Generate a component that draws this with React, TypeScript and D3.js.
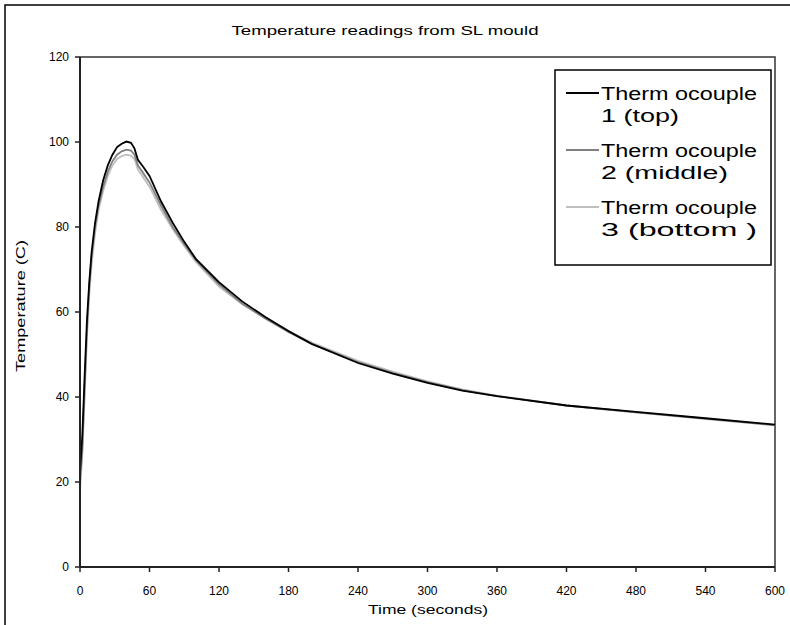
import React from 'react';
import * as d3 from 'd3';

// Thermocouple readings, SL mould – Excel-style line chart

const WIDTH = 790;
const HEIGHT = 625;
const PLOT = { left: 80, right: 775, top: 57, bottom: 567 };
const FONT = '"Liberation Sans", Arial, sans-serif';

const TITLE = 'Temperature readings from SL mould';
const X_TITLE = 'Time (seconds)';
const Y_TITLE = 'Temperature (C)';

const X_TICKS = [0, 60, 120, 180, 240, 300, 360, 420, 480, 540, 600];
const Y_TICKS = [0, 20, 40, 60, 80, 100, 120];

const TIMES = [
  0, 2, 4, 6, 8, 10, 13, 16, 20, 24, 28, 32, 36, 40, 44, 47, 50, 55, 60, 70, 80, 90, 100, 120,
  140, 160, 180, 200, 240, 270, 300, 330, 360, 420, 480, 540, 600,
];
const TC1_TOP = [
  22, 31, 45, 58, 67, 74, 81, 86, 91, 94.5, 97, 98.8, 99.6, 100.1, 99.8, 98.5, 95.8, 94, 92, 86,
  81, 76.5, 72.5, 67, 62.5, 58.8, 55.5, 52.5, 48, 45.5, 43.3, 41.5, 40.2, 38, 36.5, 35, 33.5,
];
const TC2_MIDDLE = [
  20, 28, 42, 56, 66, 73, 80, 85, 89.5, 93, 95.5, 97, 97.8, 98.2, 98, 97, 94.5, 92.5, 90.5, 85,
  80, 76, 72.2, 66.5, 62, 58.5, 55.3, 52.5, 48.2, 45.7, 43.5, 41.6, 40.2, 38, 36.4, 34.9, 33.4,
];
const TC3_BOTTOM = [
  18, 26, 40, 54, 64, 71, 78.5, 84, 88.5, 92, 94.5, 96, 96.7, 97, 96.8, 96, 93.5, 91.5, 89.5, 84,
  79.5, 75.5, 71.8, 66, 61.8, 58.5, 55.5, 52.8, 48.5, 46, 43.7, 41.8, 40.3, 38, 36.4, 34.8, 33.3,
];

const SERIES = [
  { key: 'tc1', values: TC1_TOP, color: '#000000', label: ['Therm ocouple', '1 (top)'], lens: [156, 78] },
  { key: 'tc2', values: TC2_MIDDLE, color: '#808080', label: ['Therm ocouple', '2 (middle)'], lens: [156, 127] },
  { key: 'tc3', values: TC3_BOTTOM, color: '#c0c0c0', label: ['Therm ocouple', '3 (bottom )'], lens: [156, 156] },
];

export default function App() {
  const x = d3.scaleLinear().domain([0, 600]).range([PLOT.left, PLOT.right]);
  const y = d3.scaleLinear().domain([0, 120]).range([PLOT.bottom, PLOT.top]);

  const line = d3
    .line<number>()
    .x((_, i) => x(TIMES[i]))
    .y((v) => y(v));

  return (
    <svg
      width={WIDTH}
      height={HEIGHT}
      style={{ position: 'absolute', left: 0, top: 0, background: '#fff' }}
      fontFamily={FONT}
    >
      {/* chart area frame */}
      <rect x={5} y={5} width={WIDTH + 10} height={HEIGHT + 10} fill="#fff" stroke="#000" strokeWidth={1.5} />

      <text x={385} y={35} textAnchor="middle" fontSize={13} textLength={307} lengthAdjust="spacingAndGlyphs">
        {TITLE}
      </text>

      {/* plot area border */}
      <path
        d={`M${PLOT.left},${PLOT.top}H${PLOT.right}V${PLOT.bottom}`}
        fill="none"
        stroke="#333"
        strokeWidth={1.5}
      />

      {/* series, bottom first so the black one sits on top */}
      {[...SERIES].reverse().map((s) => (
        <path key={s.key} d={line(s.values) ?? ''} fill="none" stroke={s.color} strokeWidth={1.8} />
      ))}

      {/* y axis */}
      <line x1={PLOT.left} x2={PLOT.left} y1={PLOT.top} y2={PLOT.bottom} stroke="#222" strokeWidth={2} />
      {Y_TICKS.map((t) => (
        <g key={`y${t}`}>
          <line x1={PLOT.left - 5} x2={PLOT.left} y1={y(t)} y2={y(t)} stroke="#222" strokeWidth={1.5} />
          <text x={PLOT.left - 11} y={y(t) + 4} textAnchor="end" fontSize={12}>
            {t}
          </text>
        </g>
      ))}

      {/* x axis */}
      <line x1={PLOT.left} x2={PLOT.right} y1={PLOT.bottom} y2={PLOT.bottom} stroke="#222" strokeWidth={2} />
      {X_TICKS.map((t) => (
        <g key={`x${t}`}>
          <line x1={x(t)} x2={x(t)} y1={PLOT.bottom} y2={PLOT.bottom + 5} stroke="#222" strokeWidth={1.5} />
          <text x={x(t)} y={PLOT.bottom + 28} textAnchor="middle" fontSize={12}>
            {t}
          </text>
        </g>
      ))}

      <text x={428} y={614} textAnchor="middle" fontSize={13} textLength={120} lengthAdjust="spacingAndGlyphs">
        {X_TITLE}
      </text>
      <text
        transform="translate(25,306) rotate(-90)"
        textAnchor="middle"
        fontSize={13}
        textLength={132}
        lengthAdjust="spacingAndGlyphs"
      >
        {Y_TITLE}
      </text>

      {/* legend */}
      <rect x={555} y={70} width={216} height={195} fill="#fff" stroke="#000" strokeWidth={1.5} />
      {SERIES.map((s, i) => {
        const cy = 93 + i * 57;
        return (
          <g key={`lg-${s.key}`}>
            <line x1={566} x2={599} y1={cy} y2={cy} stroke={s.color} strokeWidth={1.8} />
            <text x={601} y={cy + 7} fontSize={18} textLength={s.lens[0]} lengthAdjust="spacingAndGlyphs">
              {s.label[0]}
            </text>
            <text x={601} y={cy + 29} fontSize={18} textLength={s.lens[1]} lengthAdjust="spacingAndGlyphs">
              {s.label[1]}
            </text>
          </g>
        );
      })}
    </svg>
  );
}
